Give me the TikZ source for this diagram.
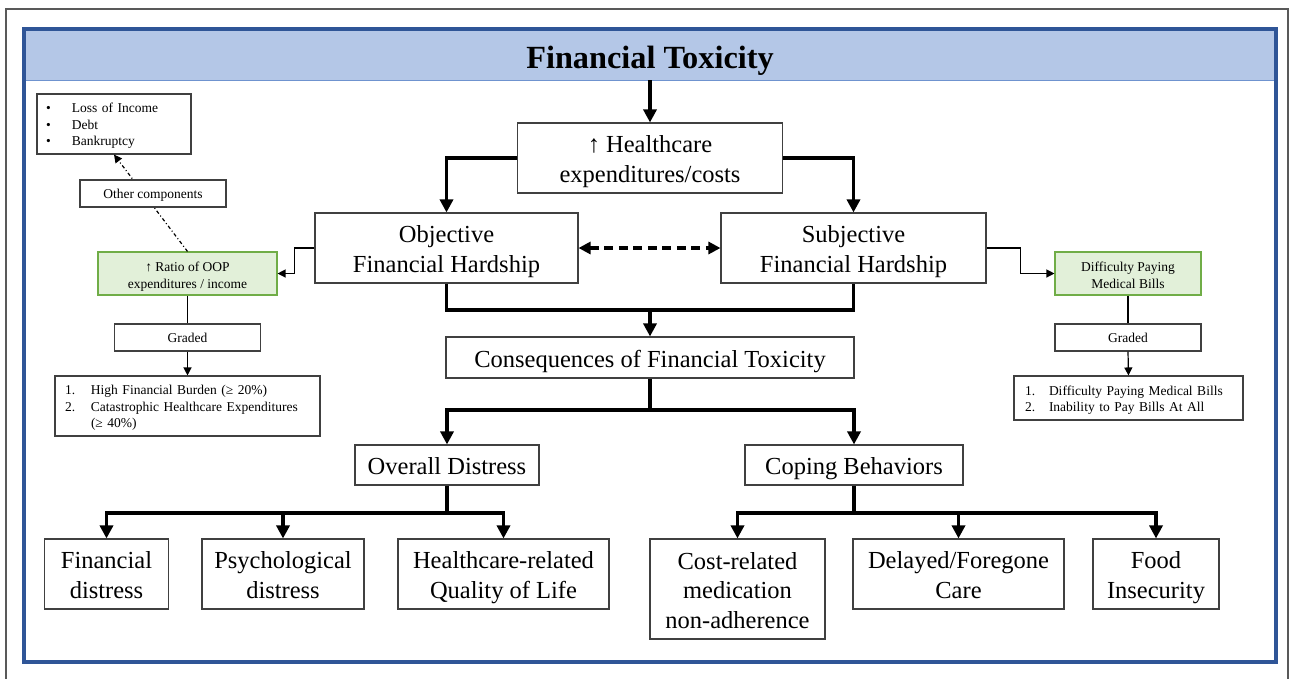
\documentclass[tikz,border=0pt]{standalone}
\usepackage{fontspec}
\setmainfont{Liberation Serif}
\usetikzlibrary{arrows.meta}

\definecolor{framegray}{HTML}{595959}
\definecolor{frameblue}{HTML}{2F5597}
\definecolor{bandblue}{HTML}{B4C7E7}
\definecolor{bandline}{HTML}{6F93CF}
\definecolor{boxgray}{HTML}{404040}
\definecolor{greenfill}{HTML}{E2F0D9}
\definecolor{greenline}{HTML}{70AD47}

\newcommand{\bigtext}{\fontsize{24.5}{29.7}\selectfont}
\newcommand{\smalltext}{\fontsize{13.5}{16.5}\selectfont}
\newcommand{\titletext}{\fontsize{32.3}{38}\selectfont\bfseries}
\newcommand{\lbl}[2]{\makebox[#1][l]{#2}}
% struts that fix the height of the first line and the depth of the last one
\newcommand{\topstrut}[1]{\rule{0pt}{#1}}
\newcommand{\botstrut}[1]{\rule[-#1]{0pt}{#1}}
\newcommand{\bighead}{\topstrut{24.5pt}}
\newcommand{\bigtail}{\botstrut{5pt}}
\newcommand{\smallhead}{\topstrut{16pt}}
\newcommand{\smalltail}{\botstrut{3pt}}

\tikzset{
  box/.style={draw=boxgray, line width=1.1pt, fill=white, inner sep=0pt,
    align=center, font=\bigtext,
    execute at begin node=\topstrut{24.5pt},
    execute at end node=\botstrut{5pt}},
  smallbox/.style={draw=boxgray, line width=1.1pt, fill=white, inner sep=0pt,
    align=center, font=\smalltext,
    execute at begin node=\topstrut{13.5pt},
    execute at end node=\botstrut{3pt}},
  greenbox/.style={smallbox, draw=greenline, fill=greenfill},
  listbox/.style={smallbox, align=left, inner xsep=10pt},
  heavy/.style={line width=3.8pt, black},
  heavyarrow/.style={heavy, -{Triangle[length=13pt,width=13pt]}},
  linkarrow/.style={heavy, dash pattern=on 9pt off 5.5pt,
    {Triangle[length=12pt,width=12pt]}-{Triangle[length=12pt,width=12pt]}},
  light/.style={line width=1.2pt, black},
  lightarrow/.style={light, -{Triangle[length=8pt,width=8pt]}},
  dashdotarrow/.style={light, dash pattern=on 3.5pt off 2.5pt on 1pt off 2.5pt,
    -{Triangle[length=8pt,width=8pt]}},
}

\begin{document}
\begin{tikzpicture}[x=1pt, y=-1pt]
\useasboundingbox (0,0) rectangle (1293,678);

% page frame and panel
\draw[framegray, line width=1.2pt] (6,700) -- (6,9) -- (1288,9) -- (1288,700);
\node[fill=bandblue, minimum width=1248pt, minimum height=49pt, inner sep=0pt,
  font=\titletext, execute at begin node=\topstrut{32pt},
  execute at end node=\botstrut{7pt}] (title) at (650,55.5) {Financial Toxicity};
\draw[bandline, line width=1pt] (title.south west) -- (title.south east);
\draw[frameblue, line width=4pt] (24,29) rectangle (1276,662);

% central cascade
\node[box, minimum width=265pt, minimum height=70pt] (hc) at (650,158)
  {\bighead↑ Healthcare\\expenditures/costs\bigtail};
\node[box, minimum width=263pt, minimum height=70pt] (obj) at (446.5,248)
  {\bighead Objective\\Financial Hardship\bigtail};
\node[box, minimum width=265pt, minimum height=70pt] (subj) at (853.5,248)
  {\bighead Subjective\\Financial Hardship\bigtail};
\node[box, minimum width=408pt, minimum height=41pt] (cons) at (650,357.5)
  {Consequences of Financial Toxicity};
\node[box, minimum width=184pt, minimum height=40pt] (od) at (447,465)
  {Overall Distress};
\node[box, minimum width=218pt, minimum height=40pt] (cb) at (854,465)
  {Coping Behaviors};

% outcome boxes
\node[box, minimum width=124pt, minimum height=70pt] (fd) at (106.5,574)
  {\bighead Financial\\distress\bigtail};
\node[box, minimum width=162pt, minimum height=70pt] (pd) at (283,574)
  {\bighead Psychological\\distress\bigtail};
\node[box, minimum width=211pt, minimum height=70pt] (hq) at (503.5,574)
  {\bighead Healthcare-related\\Quality of Life\bigtail};
\node[box, minimum width=175pt, minimum height=100pt] (cr) at (737.5,589)
  {\bighead Cost-related\\medication\\non-adherence\bigtail};
\node[box, minimum width=211pt, minimum height=70pt] (dfc) at (958.5,574)
  {\bighead Delayed/Foregone\\Care\bigtail};
\node[box, minimum width=126pt, minimum height=70pt] (fi) at (1156,574)
  {\bighead Food\\Insecurity\bigtail};

% objective branch
\node[greenbox, minimum width=179pt, minimum height=43pt] (lgreen) at (187.5,273.5)
  {\smallhead↑ Ratio of OOP\\expenditures / income\smalltail};
\node[smallbox, minimum width=146pt, minimum height=27pt] (lgraded) at (187.5,337.5)
  {Graded};
\node[listbox, text width=245pt, minimum height=60pt] (llist) at (187.5,406)
  {\lbl{26pt}{1.}High Financial Burden (≥ 20\%)\\
   \lbl{26pt}{2.}Catastrophic Healthcare Expenditures\\
   \lbl{26pt}{}(≥ 40\%)};
\node[listbox, inner xsep=9pt, text width=136pt, minimum height=60pt] (bullets) at (114,124)
  {\lbl{26pt}{•}Loss of Income\\
   \lbl{26pt}{•}Debt\\
   \lbl{26pt}{•}Bankruptcy};

% subjective branch
\node[greenbox, minimum width=146pt, minimum height=43pt] (rgreen) at (1128,273.5)
  {\smallhead Difficulty Paying\\Medical Bills\smalltail};
\node[smallbox, minimum width=146pt, minimum height=27pt] (rgraded) at (1128,337.5)
  {Graded};
\node[listbox, inner xsep=11pt, text width=207pt, minimum height=44pt] (rlist) at (1128.5,398)
  {\lbl{24pt}{1.}Difficulty Paying Medical Bills\\
   \lbl{24pt}{2.}Inability to Pay Bills At All};

% junctions of the heavy connectors
\coordinate (j1) at (650,310);
\coordinate (j2) at (650,410);
\coordinate (j3) at (447,513);
\coordinate (j4) at (854,513);

% heavy connectors
\draw[heavyarrow] (title.south) -- (hc.north);
\draw[heavyarrow] (hc.west) -| (obj.north);
\draw[heavyarrow] (hc.east) -| (subj.north);
\draw[heavy] (obj.south) |- (j1) -| (subj.south);
\draw[heavyarrow] (j1) -- (cons.north);
\draw[linkarrow] (obj.east) -- (subj.west);
\draw[heavy] (cons.south) -- (j2);
\draw[heavyarrow] (j2) -| (od.north);
\draw[heavyarrow] (j2) -| (cb.north);
\draw[heavy] (od.south) -- (j3);
\draw[heavyarrow] (j3) -| (fd.north);
\draw[heavyarrow] (j3) -| (pd.north);
\draw[heavyarrow] (j3) -| (hq.north);
\draw[heavy] (cb.south) -- (j4);
\draw[heavyarrow] (j4) -| (cr.north);
\draw[heavyarrow] (j4) -| (dfc.north);
\draw[heavyarrow] (j4) -| (fi.north);

% light connectors
\draw[lightarrow] (obj.west) -- ++(-20,0) |- (lgreen.east);
\draw[light] (lgreen.south) -- (lgraded.north);
\draw[lightarrow] (lgraded.south) -- (llist.north);
\draw[lightarrow] (subj.east) -- ++(34,0) |- (rgreen.west);
\draw[light] (rgreen.south) -- (rgraded.north);
\draw[lightarrow] (rgraded.south) -- (rlist.north);
\draw[dashdotarrow] (lgreen.north) -- (bullets.south);
\node[smallbox, minimum width=146pt, minimum height=27pt] (other) at (153,193.5)
  {Other components};
\end{tikzpicture}
\end{document}
